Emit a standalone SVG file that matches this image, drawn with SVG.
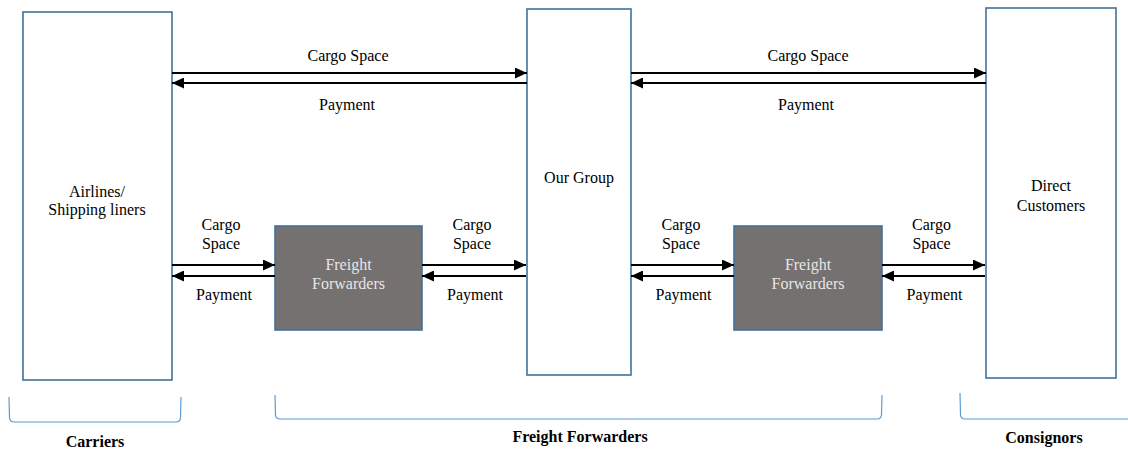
<svg xmlns="http://www.w3.org/2000/svg" width="1128" height="449" viewBox="0 0 1128 449">
<style>
text{font-family:"Liberation Serif","Times New Roman",serif;font-size:16px;fill:#000;text-anchor:middle}
.box{fill:#fff;stroke:#41719C;stroke-width:1.6}
.ff{fill:#767171;stroke:#41719C;stroke-width:1.6}
.fft{fill:#E6E6E6}
.arr{stroke:#000;stroke-width:2;fill:none;marker-end:url(#ah)}
.br{fill:none;stroke:#5B9BD5;stroke-width:1.2}
.bold{font-weight:bold}
</style>
<defs>
<marker id="ah" markerUnits="userSpaceOnUse" markerWidth="12" markerHeight="11" refX="12" refY="5.5" orient="auto" viewBox="0 0 12 11">
<path d="M0,0 L12,5.5 L0,11 z" fill="#000"/>
</marker>
</defs>
<g id="airlines">
<rect class="box" x="23" y="12" width="149" height="368"/>
<text x="97" y="197">Airlines/</text>
<text x="97" y="215">Shipping liners</text>
</g>
<g id="our-group">
<rect class="box" x="527" y="9" width="104" height="366"/>
<text x="579" y="183">Our Group</text>
</g>
<g id="direct-customers">
<rect class="box" x="986" y="8" width="130" height="370"/>
<text x="1051" y="191">Direct</text>
<text x="1051" y="211">Customers</text>
</g>
<g id="ff1">
<rect class="ff" x="275" y="226" width="147" height="104"/>
<text class="fft" x="348.5" y="270">Freight</text>
<text class="fft" x="348.5" y="289">Forwarders</text>
</g>
<g id="ff2">
<rect class="ff" x="734" y="226" width="148" height="104"/>
<text class="fft" x="808" y="270">Freight</text>
<text class="fft" x="808" y="289">Forwarders</text>
</g>
<g id="connectors">
<line class="arr" x1="172" y1="73" x2="527" y2="73"/>
<line class="arr" x1="527" y1="83" x2="172" y2="83"/>
<line class="arr" x1="631" y1="73" x2="986" y2="73"/>
<line class="arr" x1="986" y1="83" x2="631" y2="83"/>
<line class="arr" x1="172" y1="265" x2="275" y2="265"/>
<line class="arr" x1="275" y1="276" x2="172" y2="276"/>
<line class="arr" x1="422" y1="265" x2="526" y2="265"/>
<line class="arr" x1="526" y1="276" x2="422" y2="276"/>
<line class="arr" x1="631" y1="265" x2="734" y2="265"/>
<line class="arr" x1="734" y1="276" x2="631" y2="276"/>
<line class="arr" x1="882" y1="265" x2="985" y2="265"/>
<line class="arr" x1="985" y1="276" x2="882" y2="276"/>
</g>
<g id="labels">
<text x="348" y="61">Cargo Space</text>
<text x="347" y="110">Payment</text>
<text x="808" y="61">Cargo Space</text>
<text x="806" y="110">Payment</text>
<text x="221" y="230">Cargo</text>
<text x="221" y="249">Space</text>
<text x="224" y="300">Payment</text>
<text x="472" y="230">Cargo</text>
<text x="472" y="249">Space</text>
<text x="475" y="300">Payment</text>
<text x="681" y="230">Cargo</text>
<text x="681" y="249">Space</text>
<text x="683.5" y="300">Payment</text>
<text x="931.5" y="230">Cargo</text>
<text x="931.5" y="249">Space</text>
<text x="934.5" y="300">Payment</text>
</g>
<g id="brackets">
<path class="br" d="M9,397 L9.5,418 Q10,422 14,422 L176,422 Q180,422 180.5,418 L181,397"/>
<path class="br" d="M275,395 L275.5,415 Q276,419 280,419 L877,419 Q881,419 881.5,415 L882,395"/>
<path class="br" d="M960,393 L960.5,415 Q961,419 965,419 L1128,419"/>
<text class="bold" x="95" y="447">Carriers</text>
<text class="bold" x="580" y="442">Freight Forwarders</text>
<text class="bold" x="1044" y="443">Consignors</text>
</g>
</svg>
